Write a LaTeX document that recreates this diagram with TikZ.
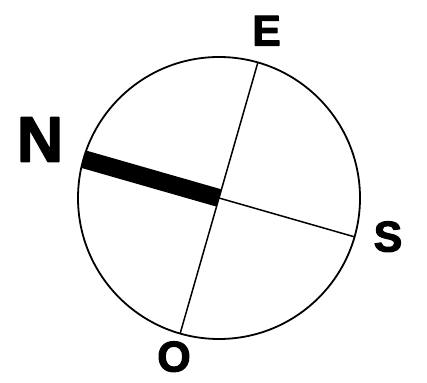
\documentclass[tikz,border=0pt]{standalone}
\usepackage{fontspec}
\setmainfont{Liberation Sans}
\newfontfamily\heavyfont[BoldFeatures={FakeBold=2.5}]{Liberation Sans}

\begin{document}
\begin{tikzpicture}[
  x=1pt, y=1pt,
  line join=round,
  rim/.style={circle, draw=black, line width=1.8pt, minimum size=282pt, inner sep=0pt, outer sep=0pt},
  spoke/.style={draw=black, line width=1.5pt},
  needle/.style={draw=black, line width=18pt, line cap=butt},
  point/.style={font=\heavyfont\bfseries\fontsize{43}{43}\selectfont, inner sep=0pt, anchor=base},
  north/.style={point, font=\heavyfont\bfseries\fontsize{64}{64}\selectfont},
]
\useasboundingbox (0,0) rectangle (427,382);
\node[rim] (rose) at (219,184) {};
\draw[spoke] (rose.center) -- (rose.74);
\draw[spoke] (rose.center) -- (rose.-16);
\draw[spoke] (rose.center) -- (rose.254);
\draw[needle] (rose.center) -- (rose.164);
\node[north] (N) at (40,220.5) {N};
\node[point] (E) at (266.5,336.5) {E};
\node[point] (S) at (388,130.5) {S};
\node[point] (O) at (174,10.5) {O};
\end{tikzpicture}
\end{document}
